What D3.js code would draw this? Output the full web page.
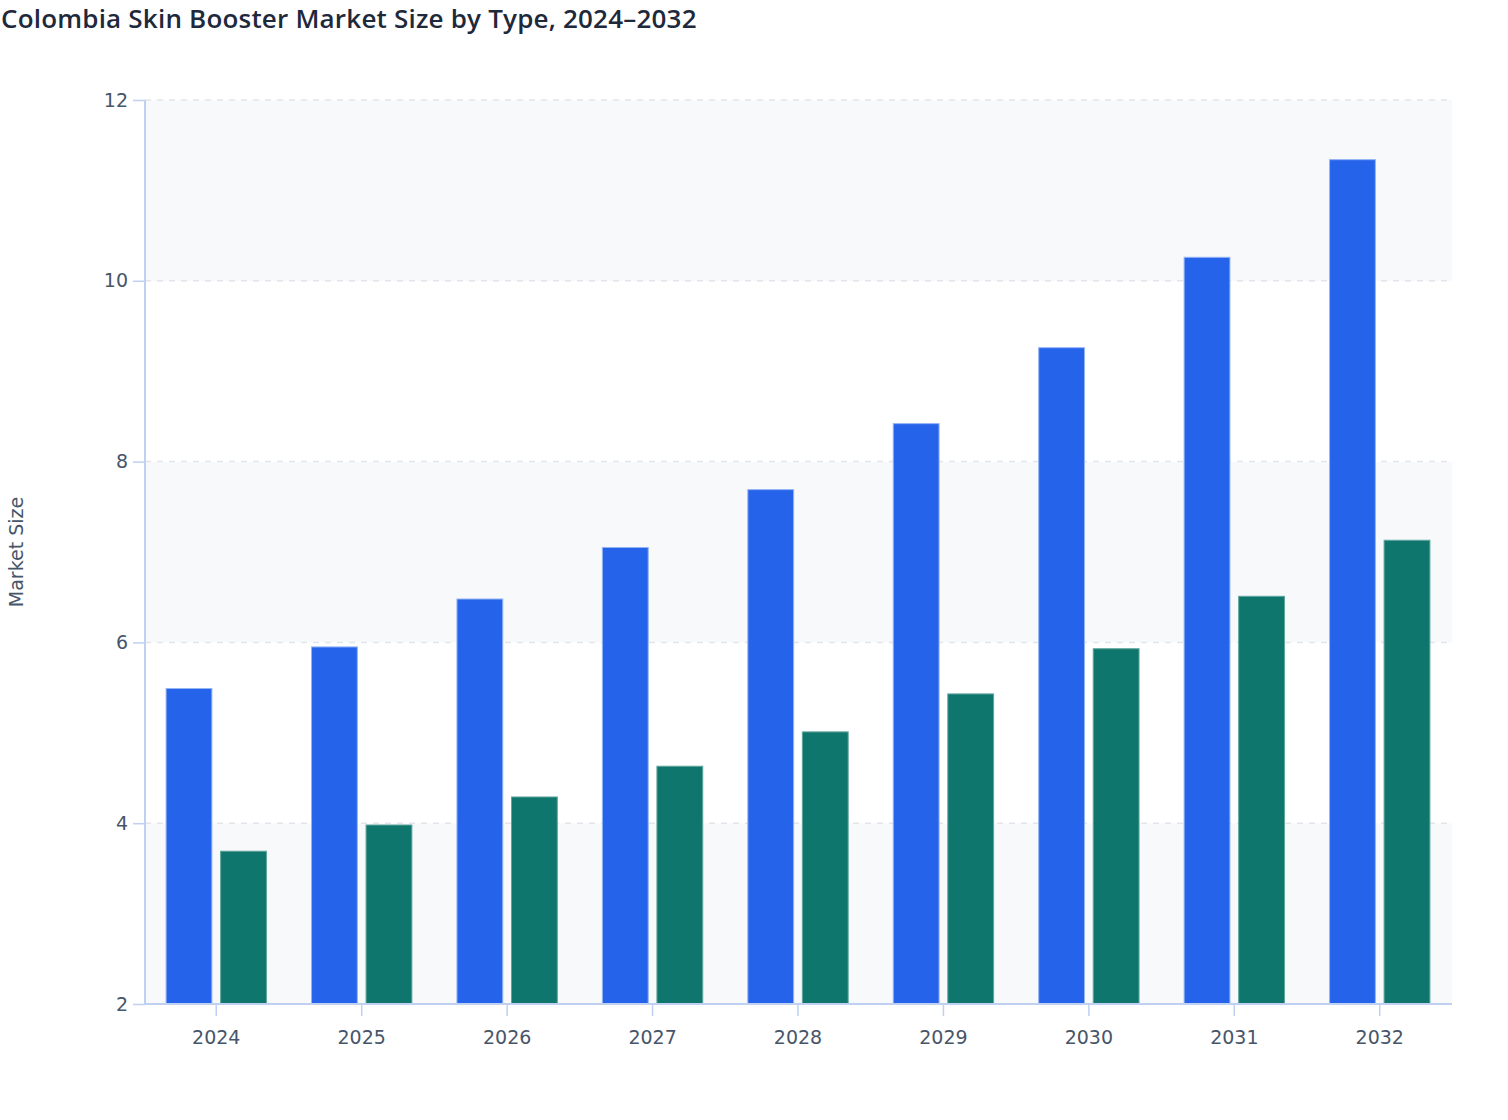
<!DOCTYPE html>
<html>
<head>
<meta charset="utf-8">
<script src="https://cdn.jsdelivr.net/npm/d3@7"></script>
<style>
  html, body { margin: 0; padding: 0; background: #ffffff; }
  svg { display: block; font-family: "DejaVu Sans", sans-serif; }
</style>
</head>
<body>
<svg id="chart" width="1508" height="1120"></svg>
<script>
const years = ["2024","2025","2026","2027","2028","2029","2030","2031","2032"];
const seriesNames = ["Type A", "Type B"];
const seriesA = [5.49, 5.95, 6.48, 7.05, 7.69, 8.42, 9.26, 10.26, 11.34];
const seriesB = [3.69, 3.98, 4.29, 4.63, 5.01, 5.43, 5.93, 6.51, 7.13];
const yTicks = [2, 4, 6, 8, 10, 12];
const colors = ["#2563eb", "#0f766e"];
const strokes = ["#93b4f5", "#5fa59c"];

const svg = d3.select("#chart");
const margin = {left: 145, right: 56, top: 100, bottom: 116};
const W = 1508, H = 1120;
const x0 = margin.left, x1 = W - margin.right;
const yTop = margin.top, yBot = H - margin.bottom;

const x = d3.scaleBand().domain(years).range([x0, x1 - 1]).paddingInner(0.31).paddingOuter(0.145);
const xs = d3.scaleBand().domain(seriesNames).range([0, x.bandwidth()]).paddingInner(0.16);
const y = d3.scaleLinear().domain([2, 12]).range([yBot, yTop]);

// alternating bands
const bands = [];
for (let i = 0; i < yTicks.length - 1; i++) bands.push([yTicks[i], yTicks[i+1], i]);
svg.append("g").selectAll("rect").data(bands).join("rect")
  .attr("x", x0).attr("width", x1 - x0)
  .attr("y", d => y(d[1])).attr("height", d => y(d[0]) - y(d[1]))
  .attr("fill", d => d[2] % 2 === 0 ? "#f8f9fb" : "#ffffff");

// grid
svg.append("g").selectAll("line").data(yTicks).join("line")
  .attr("x1", x0).attr("x2", x1)
  .attr("y1", d => y(d)).attr("y2", d => y(d))
  .attr("stroke", "#e3e5ec").attr("stroke-width", 1.5).attr("stroke-dasharray", "6,6");

// bars
const data = years.map((yr, i) => ({year: yr, vals: [seriesA[i], seriesB[i]]}));
const g = svg.append("g").selectAll("g").data(data).join("g")
  .attr("transform", d => `translate(${x(d.year)},0)`);
g.selectAll("rect").data(d => d.vals.map((v, j) => ({v, j}))).join("rect")
  .attr("x", d => xs(seriesNames[d.j]))
  .attr("width", xs.bandwidth())
  .attr("y", d => y(d.v))
  .attr("height", d => y(2) - y(d.v))
  .attr("fill", d => colors[d.j])
  .attr("stroke", d => strokes[d.j]).attr("stroke-width", 1);

// axes
const axisColor = "#bfd0f3";
const yAxis = svg.append("g").attr("transform", `translate(${x0},0)`)
  .call(d3.axisLeft(y).tickValues(yTicks).tickSize(12).tickPadding(5).tickFormat(d3.format("d")));
const xAxis = svg.append("g").attr("transform", `translate(0,${yBot})`)
  .call(d3.axisBottom(x).tickSize(12).tickPadding(15));
[yAxis, xAxis].forEach(a => {
  a.select(".domain").attr("stroke", axisColor).attr("stroke-width", 2);
  a.selectAll(".tick line").attr("stroke", axisColor).attr("stroke-width", 1.5);
  a.selectAll(".tick text").attr("fill", "#475569").attr("font-size", 19)
    .attr("font-family", "'DejaVu Sans', sans-serif");
});
xAxis.select(".domain").attr("d", `M${x0},0H${x1}`);
yAxis.select(".domain").attr("d", `M0,${yBot}V${yTop}`);

// axis title
svg.append("text")
  .attr("transform", `translate(23,${(yTop + yBot) / 2}) rotate(-90)`)
  .attr("text-anchor", "middle")
  .attr("fill", "#475569").attr("font-size", 19)
  .text("Market Size");

// title
svg.append("text")
  .attr("x", 1).attr("y", 28)
  .attr("fill", "#1e293b").attr("font-size", 26).attr("font-weight", 600)
  .attr("letter-spacing", 0.2)
  .attr("font-family", "'Open Sans', 'Noto Sans', sans-serif")
  .text("Colombia Skin Booster Market Size by Type, 2024–2032");
</script>
</body>
</html>
